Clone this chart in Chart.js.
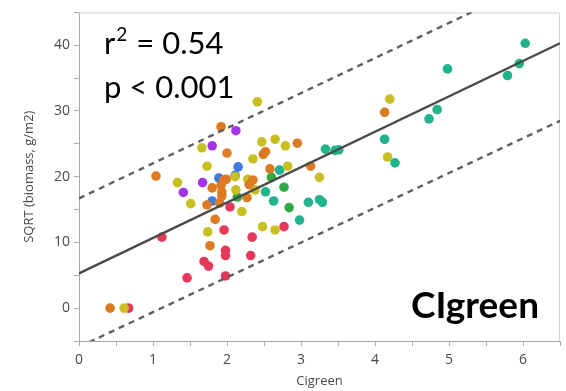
<!DOCTYPE html>
<html>
<head>
<meta charset="utf-8">
<script src="https://cdn.jsdelivr.net/npm/chart.js@4.4.1/dist/chart.umd.min.js"></script>
<style>
  html, body { margin: 0; padding: 0; background: #fff; }
  #wrap { width: 566px; height: 391px; position: relative; }
</style>
</head>
<body>
<div id="wrap"><canvas id="chart"></canvas></div>
<script>
// point groups (x = CIgreen, y = SQRT biomass)
const redX = [0.67, 1.12, 1.46, 1.69, 1.75, 1.96, 1.98, 1.98, 1.98, 2.04, 2.32, 2.34, 2.77];
const redY = [0, 10.8, 4.6, 7.1, 6.4, 11.9, 8.8, 8.0, 4.9, 15.4, 8.0, 10.8, 12.4];

const orangeX = [0.42, 1.04, 1.73, 1.77, 1.80, 1.84, 1.90, 1.92, 1.92, 1.93, 1.93, 1.96, 1.99, 2.00, 2.27, 2.30, 2.35, 2.49, 2.52, 2.58, 2.95, 3.13, 4.13];
const orangeY = [0, 20.1, 15.7, 9.5, 18.3, 13.5, 16.0, 27.6, 18.7, 17.7, 17.1, 19.5, 19.6, 23.6, 16.8, 18.8, 19.5, 23.4, 23.8, 21.2, 25.1, 21.6, 29.8];

const yellowX = [0.61, 1.33, 1.51, 1.66, 1.73, 1.74, 2.11, 2.12, 2.20, 2.28, 2.35, 2.38, 2.41, 2.47, 2.48, 2.65, 2.65, 2.79, 2.82, 3.25, 4.17, 4.20];
const yellowY = [0, 19.1, 15.9, 24.4, 21.6, 11.6, 20.0, 18.0, 14.7, 19.6, 22.7, 18.0, 31.4, 25.3, 12.4, 25.7, 11.9, 24.7, 21.6, 19.9, 23.0, 31.8];

const purpleX = [1.41, 1.67, 1.80, 2.12];
const purpleY = [17.6, 19.1, 24.7, 27.0];

const blueX = [1.80, 1.89, 2.11, 2.15];
const blueY = [16.3, 19.8, 20.2, 21.5];

const greenX = [2.14, 2.60, 2.77, 2.84];
const greenY = [16.9, 19.9, 18.4, 15.3];

const tealX = [2.52, 2.63, 2.71, 2.98, 3.10, 3.25, 3.29, 3.33, 3.46, 3.51, 4.13, 4.27, 4.73, 4.84, 4.98, 5.79, 5.95, 6.03];
const tealY = [17.7, 16.3, 21.0, 13.4, 16.1, 16.5, 16.1, 24.2, 24.0, 24.1, 25.7, 22.1, 28.8, 30.2, 36.4, 35.4, 37.2, 40.3];

// fit line and prediction band, ends read at x = 0 and x = 6.5
const fitX = [0, 6.5];
const fitY = [5.3, 40.3];
const upperY = [16.7, 51.4];
const lowerY = [-5.9, 28.5];

const xTicks = [0, 1, 2, 3, 4, 5, 6];
const yTicks = [0, 10, 20, 30, 40];

function pts(xs, ys) {
    return xs.map(function(x, i) { return { x: x, y: ys[i] }; });
}

function dots(xs, ys, color) {
    return {
        data: pts(xs, ys),
        backgroundColor: color,
        borderWidth: 0,
        pointRadius: 4.8,
        pointHoverRadius: 4.8
    };
}

function line(ys, dashed) {
    return {
        type: 'line',
        data: pts(fitX, ys),
        borderColor: dashed ? '#606060' : '#4a4a4a',
        borderWidth: 2.4,
        borderDash: dashed ? [6, 5] : [],
        pointRadius: 0,
        fill: false,
        order: -1
    };
}

const frame = {
    id: 'frame',
    beforeDatasetsDraw(chart) {
        const a = chart.chartArea, ctx = chart.ctx;
        ctx.save();
        ctx.strokeStyle = '#d4d4d4';
        ctx.lineWidth = 1;
        ctx.beginPath();
        ctx.moveTo(a.left, a.top + 0.5);
        ctx.lineTo(a.right - 0.5, a.top + 0.5);
        ctx.lineTo(a.right - 0.5, a.bottom);
        ctx.stroke();
        ctx.restore();
    },
    afterDraw(chart) {
        const ctx = chart.ctx;
        ctx.save();
        ctx.fillStyle = '#000';
        ctx.textBaseline = 'alphabetic';
        ctx.font = '31px Lato, "Noto Sans", sans-serif';
        ctx.fillText('r', 104, 54);
        let w = ctx.measureText('r').width;
        ctx.font = '19px Lato, "Noto Sans", sans-serif';
        ctx.fillText('2', 104 + w + 1, 41);
        let w2 = ctx.measureText('2').width;
        ctx.font = '31px Lato, "Noto Sans", sans-serif';
        ctx.fillText(' = 0.54', 104 + w + w2 + 2, 54);
        ctx.fillText('p < 0.001', 104, 98);
        ctx.font = 'bold 37px Lato, "Noto Sans", sans-serif';
        ctx.textAlign = 'right';
        ctx.fillText('CIgreen', 539, 318);
        ctx.restore();
    }
};

new Chart(document.getElementById('chart'), {
    type: 'scatter',
    data: {
        datasets: [
            line(fitY, false),
            line(upperY, true),
            line(lowerY, true),
            dots(orangeX, orangeY, '#dd7b22'),
            dots(yellowX, yellowY, '#c8c020'),
            dots(purpleX, purpleY, '#a535ea'),
            dots(blueX, blueY, '#3c7be4'),
            dots(greenX, greenY, '#31a846'),
            dots(tealX, tealY, '#21b38c'),
            dots(redX, redY, '#e4395b')
        ]
    },
    options: {
        responsive: true,
        maintainAspectRatio: false,
        animation: false,
        layout: { padding: { left: 0, top: 6, right: 5, bottom: 0 } },
        plugins: {
            legend: { display: false },
            tooltip: { enabled: false }
        },
        scales: {
            x: {
                type: 'linear',
                min: 0,
                max: 6.5,
                afterFit: function(s) { s.height = 50; },
                border: { color: '#a8a8a8' },
                grid: { drawOnChartArea: false, tickLength: 5, color: '#a8a8a8' },
                ticks: {
                    stepSize: 0.5,
                    padding: 6,
                    color: '#4a4a4a',
                    font: { family: '"Open Sans", "Noto Sans", sans-serif', size: 14 },
                    callback: function(v) { return xTicks.indexOf(v) >= 0 ? String(v) : ''; }
                },
                title: {
                    display: true,
                    text: 'Cigreen',
                    color: '#4a4a4a',
                    padding: { top: 0, bottom: 2 },
                    font: { family: '"Open Sans", "Noto Sans", sans-serif', size: 13 }
                }
            },
            y: {
                type: 'linear',
                min: -5,
                max: 45,
                afterFit: function(s) { s.width = 79; },
                border: { color: '#a8a8a8' },
                grid: { drawOnChartArea: false, tickLength: 5, color: '#a8a8a8' },
                ticks: {
                    stepSize: 5,
                    padding: 4,
                    color: '#4a4a4a',
                    font: { family: '"Open Sans", "Noto Sans", sans-serif', size: 14 },
                    callback: function(v) { return yTicks.indexOf(v) >= 0 ? String(v) : ''; }
                },
                title: {
                    display: true,
                    text: 'SQRT (biomass, g/m2)',
                    color: '#4a4a4a',
                    padding: { top: 21, bottom: 0 },
                    font: { family: '"Open Sans", "Noto Sans", sans-serif', size: 13 }
                }
            }
        }
    },
    plugins: [frame]
});
</script>
</body>
</html>
